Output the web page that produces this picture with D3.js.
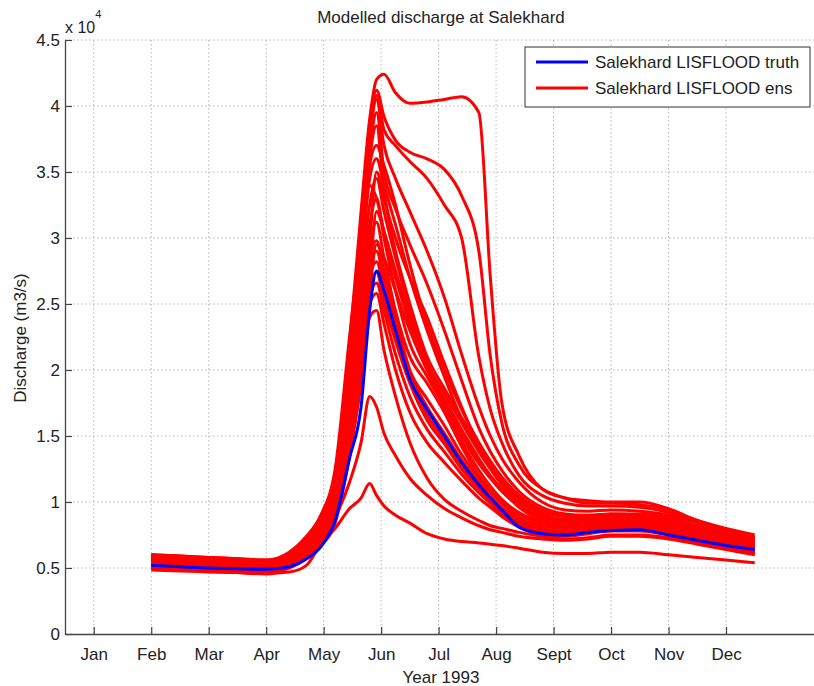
<!DOCTYPE html>
<html>
<head>
<meta charset="utf-8">
<script src="https://cdn.jsdelivr.net/npm/d3@7"></script>
<style>
  body { margin: 0; background: #fff; }
  text { font-family: "Liberation Sans", Arial, sans-serif; fill: #222; }
</style>
</head>
<body>
<svg id="chart"></svg>
<script>
// month positions (Jan = 1) where the series values were read
var months = [2.0, 2.5, 3.0, 3.5, 4.0, 4.4, 4.7, 4.95, 5.2, 5.45, 5.65, 5.8, 5.92, 6.05, 6.25, 6.5,
              6.8, 7.1, 7.4, 7.7, 7.9, 8.1, 8.4, 8.8, 9.2, 9.6, 10.0, 10.5, 11.0, 11.5, 12.0, 12.5];
var monthLabels = ["Jan", "Feb", "Mar", "Apr", "May", "Jun", "Jul", "Aug", "Sept", "Oct", "Nov", "Dec"];
var yTicks = [0, 0.5, 1, 1.5, 2, 2.5, 3, 3.5, 4, 4.5];
var legendLabels = ["Salekhard LISFLOOD truth", "Salekhard LISFLOOD ens"];

// discharge in units of 10^4 m3/s
var truth = [0.52,0.51,0.50,0.495,0.49, 0.51,0.57,0.66,0.86,1.33,1.72, 2.45,2.75,2.60, 2.30,1.93,1.70,1.50,1.30,1.13,1.03,0.94,0.81,0.76,0.75,0.77,0.785,0.79,0.75,0.71,0.67,0.64];

var ens01 = [0.60,0.59,0.58,0.57,0.56, 0.61,0.73,0.88,1.20,2.20,3.20, 3.90,4.20,4.24, 4.10,4.02,4.03,4.05,4.07,3.95,2.70,1.75,1.35,1.10,1.03,1.01,1.00,1.00,0.95,0.86,0.80,0.75];
var ens02 = [0.59,0.58,0.57,0.56,0.55, 0.60,0.72,0.86,1.15,2.10,3.10, 3.85,4.12,3.92, 3.74,3.65,3.60,3.52,3.32,2.90,2.10,1.60,1.28,1.10,1.03,0.99,0.99,0.98,0.94,0.86,0.79,0.73];
var ens03 = [0.585,0.575,0.565,0.555,0.545, 0.59,0.71,0.85,1.12,2.05,3.05, 3.80,4.08,3.82, 3.70,3.58,3.45,3.25,3.00,2.10,1.70,1.45,1.20,1.05,0.99,0.97,0.97,0.96,0.92,0.85,0.78,0.72];
var ens04 = [0.58,0.57,0.56,0.55,0.54, 0.59,0.70,0.84,1.10,2.00,3.00, 3.75,4.05,3.70, 3.45,3.20,2.90,2.55,2.12,1.72,1.50,1.33,1.15,1.00,0.94,0.93,0.94,0.93,0.90,0.84,0.77,0.71];
var ens05 = [0.575,0.565,0.555,0.545,0.535, 0.585,0.69,0.83,1.08,1.95,2.90, 3.65,3.95,3.50, 3.22,2.95,2.65,2.30,1.92,1.56,1.38,1.24,1.08,0.96,0.91,0.90,0.91,0.91,0.88,0.82,0.76,0.70];
var ens06 = [0.57,0.56,0.55,0.54,0.53, 0.58,0.68,0.82,1.06,1.90,2.85, 3.60,3.85,3.35, 3.00,2.70,2.40,2.05,1.72,1.43,1.29,1.17,1.03,0.93,0.89,0.88,0.90,0.89,0.86,0.80,0.74,0.69];
var ens07 = [0.565,0.555,0.545,0.535,0.525, 0.575,0.68,0.81,1.04,1.85,2.75, 3.45,3.60,3.40, 3.10,2.70,2.30,1.95,1.63,1.39,1.26,1.14,1.01,0.91,0.87,0.87,0.89,0.88,0.85,0.79,0.73,0.68];
var ens08 = [0.56,0.55,0.54,0.53,0.52, 0.57,0.67,0.80,1.02,1.80,2.65, 3.25,3.45,3.20, 2.85,2.45,2.05,1.76,1.50,1.29,1.18,1.08,0.97,0.88,0.85,0.85,0.87,0.87,0.84,0.78,0.72,0.67];
var ens09 = [0.555,0.545,0.535,0.525,0.515, 0.565,0.66,0.79,1.00,1.75,2.55, 3.10,3.30,3.00, 2.60,2.20,1.95,1.72,1.46,1.24,1.12,1.02,0.92,0.85,0.82,0.83,0.85,0.85,0.82,0.77,0.71,0.66];
var ens10 = [0.55,0.54,0.53,0.52,0.51, 0.56,0.66,0.78,0.98,1.70,2.45, 2.95,3.12,2.85, 2.45,2.10,1.90,1.68,1.42,1.20,1.09,1.00,0.90,0.84,0.81,0.82,0.84,0.84,0.81,0.76,0.70,0.65];
var ens11 = [0.545,0.535,0.525,0.515,0.505, 0.555,0.65,0.77,0.96,1.65,2.35, 2.85,2.98,2.75, 2.40,2.00,1.78,1.58,1.36,1.18,1.08,0.99,0.88,0.82,0.80,0.81,0.83,0.83,0.80,0.75,0.70,0.65];
var ens12 = [0.54,0.53,0.52,0.51,0.50, 0.55,0.64,0.76,0.95,1.62,2.30, 2.78,2.90,2.68, 2.35,1.98,1.72,1.52,1.32,1.15,1.05,0.96,0.86,0.80,0.78,0.80,0.82,0.82,0.79,0.74,0.69,0.64];
var ens13 = [0.535,0.525,0.515,0.505,0.495, 0.545,0.64,0.75,0.93,1.58,2.25, 2.70,2.82,2.60, 2.28,1.95,1.66,1.47,1.28,1.12,1.03,0.94,0.85,0.79,0.77,0.79,0.81,0.81,0.78,0.73,0.68,0.63];
var ens14 = [0.53,0.52,0.51,0.50,0.49, 0.54,0.63,0.74,0.92,1.55,2.20, 2.62,2.74,2.52, 2.22,1.90,1.62,1.44,1.25,1.10,1.01,0.93,0.84,0.78,0.76,0.78,0.80,0.80,0.77,0.72,0.67,0.62];
var ens15 = [0.525,0.515,0.505,0.495,0.485, 0.535,0.62,0.73,0.90,1.52,2.15, 2.55,2.66,2.45, 2.12,1.80,1.55,1.38,1.21,1.07,0.99,0.91,0.83,0.77,0.75,0.77,0.79,0.79,0.76,0.71,0.66,0.62];
var ens16 = [0.52,0.51,0.50,0.49,0.48, 0.53,0.61,0.72,0.89,1.48,2.10, 2.50,2.58,2.35, 2.00,1.68,1.45,1.30,1.16,1.03,0.96,0.89,0.81,0.76,0.74,0.76,0.78,0.78,0.75,0.70,0.65,0.61];
var ens17 = [0.515,0.505,0.495,0.485,0.475, 0.525,0.61,0.71,0.88,1.45,2.05, 2.60,2.95,2.85, 2.60,2.30,2.00,1.78,1.55,1.33,1.20,1.09,0.96,0.86,0.82,0.83,0.86,0.86,0.83,0.77,0.71,0.66];
var ens18 = [0.51,0.50,0.49,0.48,0.47, 0.52,0.60,0.70,0.87,1.42,2.00, 2.70,3.20,3.05, 2.75,2.40,2.05,1.82,1.60,1.38,1.25,1.13,0.99,0.88,0.84,0.85,0.88,0.88,0.85,0.79,0.73,0.68];
var ens19 = [0.505,0.495,0.485,0.475,0.465, 0.515,0.60,0.70,0.86,1.40,1.95, 2.95,3.50,3.30, 2.90,2.50,2.10,1.86,1.64,1.42,1.29,1.17,1.02,0.90,0.86,0.86,0.89,0.89,0.86,0.80,0.74,0.69];
var ens20 = [0.50,0.49,0.48,0.47,0.46, 0.51,0.58,0.68,0.88,1.15,1.45, 1.80,1.72,1.52, 1.35,1.18,1.05,0.95,0.88,0.82,0.79,0.77,0.74,0.72,0.71,0.72,0.74,0.74,0.72,0.68,0.64,0.60];
var ens21 = [0.485,0.478,0.47,0.465,0.46, 0.47,0.52,0.68,0.80,0.95,1.03, 1.14,1.05,0.97, 0.90,0.84,0.76,0.72,0.70,0.69,0.68,0.67,0.65,0.62,0.61,0.61,0.62,0.62,0.60,0.58,0.56,0.54];
var ens22 = [0.495,0.485,0.475,0.465,0.455, 0.50,0.57,0.67,0.84,1.35,1.90, 2.40,2.45,2.15, 1.80,1.45,1.18,1.02,0.93,0.86,0.82,0.80,0.77,0.74,0.72,0.73,0.75,0.75,0.73,0.69,0.65,0.61];
var ens23 = [0.60,0.59,0.58,0.57,0.56, 0.62,0.74,0.90,1.25,2.25,3.00, 3.40,3.30,3.05, 2.70,2.35,2.00,1.75,1.52,1.32,1.20,1.10,0.98,0.88,0.85,0.86,0.89,0.89,0.86,0.80,0.74,0.69];
var ens24 = [0.59,0.58,0.57,0.56,0.55, 0.61,0.73,0.89,1.22,2.15,2.85, 3.55,3.70,3.55, 3.25,2.80,2.35,2.00,1.70,1.45,1.31,1.19,1.05,0.94,0.90,0.89,0.91,0.90,0.87,0.81,0.75,0.70];

var ensemble = [ens01, ens02, ens03, ens04, ens05, ens06, ens07, ens08, ens09, ens10, ens11, ens12,
                ens13, ens14, ens15, ens16, ens17, ens18, ens19, ens20, ens21, ens22, ens23, ens24];

var settings = {
    width: 814,
    height: 686,
    left: 65,
    right: 818,
    top: 40,
    bottom: 634
};

var svg = d3.select("#chart")
    .attr("width", settings.width)
    .attr("height", settings.height);

var x = d3.scaleLinear().domain([0.5, 13.6]).range([settings.left, settings.right]);
var y = d3.scaleLinear().domain([0, 4.5]).range([settings.bottom, settings.top]);

// dotted grid
var grid = svg.append("g").attr("stroke", "#b4b4b4").attr("stroke-dasharray", "1.5,2.5").attr("stroke-width", 1);
grid.selectAll(".vgrid")
    .data(d3.range(1, 13))
    .join("line")
    .attr("x1", d => x(d)).attr("x2", d => x(d))
    .attr("y1", settings.top).attr("y2", settings.bottom);
grid.selectAll(".hgrid")
    .data(yTicks.slice(1))
    .join("line")
    .attr("x1", settings.left).attr("x2", settings.right)
    .attr("y1", d => y(d)).attr("y2", d => y(d));

// series
var line = d3.line()
    .x((d, i) => x(months[i]))
    .y(d => y(d))
    .curve(d3.curveMonotoneX);

svg.append("g")
    .selectAll("path")
    .data(ensemble)
    .join("path")
    .attr("fill", "none")
    .attr("stroke", "#ff0000")
    .attr("stroke-width", 3)
    .attr("stroke-linejoin", "round")
    .attr("d", line);

svg.append("path")
    .datum(truth)
    .attr("fill", "none")
    .attr("stroke", "#0000ff")
    .attr("stroke-width", 3)
    .attr("d", line);

// axes
var xAxis = d3.axisBottom(x)
    .tickValues(d3.range(1, 13))
    .tickFormat(d => monthLabels[d - 1])
    .tickSizeInner(-7)
    .tickSizeOuter(0)
    .tickPadding(14);
var yAxis = d3.axisLeft(y)
    .tickValues(yTicks)
    .tickFormat(d => String(d))
    .tickSizeInner(-7)
    .tickSizeOuter(0)
    .tickPadding(5);

var gx = svg.append("g").attr("transform", "translate(0," + settings.bottom + ")").call(xAxis);
var gy = svg.append("g").attr("transform", "translate(" + settings.left + ",0)").call(yAxis);
[gx, gy].forEach(function(g) {
    g.select(".domain").attr("stroke", "#444").attr("stroke-width", 1.3);
    g.selectAll(".tick line").attr("stroke", "#444").attr("stroke-width", 1.2);
    g.selectAll(".tick text").attr("font-size", 17).attr("fill", "#222")
        .style("font-family", "'Liberation Sans', Arial, sans-serif");
});

// exponent label
var expo = svg.append("text").attr("x", 65).attr("y", 33).attr("font-size", 16);
expo.append("tspan").text("x 10");
expo.append("tspan").attr("dy", -15).attr("font-size", 11).text("4");

// titles
svg.append("text")
    .attr("x", 441).attr("y", 23)
    .attr("text-anchor", "middle").attr("font-size", 17)
    .text("Modelled discharge at Salekhard");
svg.append("text")
    .attr("x", 441).attr("y", 683)
    .attr("text-anchor", "middle").attr("font-size", 17)
    .text("Year 1993");
svg.append("text")
    .attr("transform", "translate(26,338) rotate(-90)")
    .attr("text-anchor", "middle").attr("font-size", 17)
    .text("Discharge (m3/s)");

// legend
var legend = svg.append("g").attr("transform", "translate(525,47)");
legend.append("rect")
    .attr("width", 285).attr("height", 60)
    .attr("fill", "#fff").attr("stroke", "#333").attr("stroke-width", 1);
var legendColors = ["#0000ff", "#ff0000"];
legendLabels.forEach(function(label, i) {
    legend.append("line")
        .attr("x1", 11).attr("x2", 63)
        .attr("y1", 15 + i * 26).attr("y2", 15 + i * 26)
        .attr("stroke", legendColors[i]).attr("stroke-width", 3);
    legend.append("text")
        .attr("x", 70).attr("y", 21 + i * 26)
        .attr("font-size", 17)
        .text(label);
});
</script>
</body>
</html>
